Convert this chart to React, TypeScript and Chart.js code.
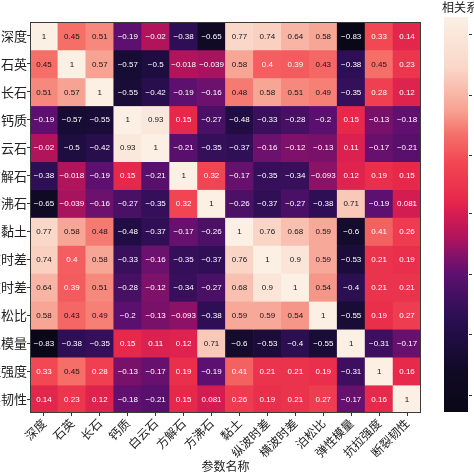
import React, { useEffect, useRef } from 'react';
import { Chart, registerables } from 'chart.js';

Chart.register(...registerables);

// ---------- data ----------
const PARAMS = ['深度', '石英', '长石', '钙质', '白云石', '方解石', '方沸石', '黏土', '纵波时差', '横波时差', '泊松比', '弹性模量', '抗拉强度', '断裂韧性'];
const X_TITLE = '参数名称';
const COLORBAR_TITLE = '相关系数';

const R_DEPTH = [1, 0.45, 0.51, -0.19, -0.02, -0.38, -0.65, 0.77, 0.74, 0.64, 0.58, -0.83, 0.33, 0.14];
const R_QUARTZ = [0.45, 1, 0.57, -0.57, -0.5, -0.018, -0.039, 0.58, 0.4, 0.39, 0.43, -0.38, 0.45, 0.23];
const R_FELDSPAR = [0.51, 0.57, 1, -0.55, -0.42, -0.19, -0.16, 0.48, 0.58, 0.51, 0.49, -0.35, 0.28, 0.12];
const R_CALC = [-0.19, -0.57, -0.55, 1, 0.93, 0.15, -0.27, -0.48, -0.33, -0.28, -0.2, 0.15, -0.13, -0.18];
const R_DOLOMITE = [-0.02, -0.5, -0.42, 0.93, 1, -0.21, -0.35, -0.37, -0.16, -0.12, -0.13, 0.11, -0.17, -0.21];
const R_CALCITE = [-0.38, -0.018, -0.19, 0.15, -0.21, 1, 0.32, -0.17, -0.35, -0.34, -0.093, 0.12, 0.19, 0.15];
const R_ANALCIME = [-0.65, -0.039, -0.16, -0.27, -0.35, 0.32, 1, -0.26, -0.37, -0.27, -0.38, 0.71, -0.19, 0.081];
const R_CLAY = [0.77, 0.58, 0.48, -0.48, -0.37, -0.17, -0.26, 1, 0.76, 0.68, 0.59, -0.6, 0.41, 0.26];
const R_DTC = [0.74, 0.4, 0.58, -0.33, -0.16, -0.35, -0.37, 0.76, 1, 0.9, 0.59, -0.53, 0.21, 0.19];
const R_DTS = [0.64, 0.39, 0.51, -0.28, -0.12, -0.34, -0.27, 0.68, 0.9, 1, 0.54, -0.4, 0.21, 0.21];
const R_POISSON = [0.58, 0.43, 0.49, -0.2, -0.13, -0.093, -0.38, 0.59, 0.59, 0.54, 1, -0.55, 0.19, 0.27];
const R_MODULUS = [-0.83, -0.38, -0.35, 0.15, 0.11, 0.12, 0.71, -0.6, -0.53, -0.4, -0.55, 1, -0.31, -0.17];
const R_TENSILE = [0.33, 0.45, 0.28, -0.13, -0.17, 0.19, -0.19, 0.41, 0.21, 0.21, 0.19, -0.31, 1, 0.16];
const R_TOUGHNESS = [0.14, 0.23, 0.12, -0.18, -0.21, 0.15, 0.081, 0.26, 0.19, 0.21, 0.27, -0.17, 0.16, 1];

const MATRIX = [R_DEPTH, R_QUARTZ, R_FELDSPAR, R_CALC, R_DOLOMITE, R_CALCITE, R_ANALCIME, R_CLAY, R_DTC, R_DTS, R_POISSON, R_MODULUS, R_TENSILE, R_TOUGHNESS];

const COLORBAR_TICKS = [0.92, 0.64, 0.36, 0.09, -0.19, -0.47, -0.75];

// ---------- colormap ----------
const CMAP: [number, string][] = [
  [0.0, '#0A0818'],
  [0.1, '#100A24'],
  [0.18, '#1E0D40'],
  [0.25, '#2F0F56'],
  [0.35, '#5E1070'],
  [0.4, '#881268'],
  [0.443, '#B2145C'],
  [0.5, '#D41C52'],
  [0.535, '#E6284A'],
  [0.63, '#F24653'],
  [0.7, '#F56E68'],
  [0.765, '#F7A393'],
  [0.875, '#FAD8C9'],
  [1.0, '#FCEFE4'],
];

const ALL = MATRIX.flat();
const VMIN = Math.min(...ALL);
const VMAX = Math.max(...ALL);

function hexToRgb(h: string) {
  const n = parseInt(h.slice(1), 16);
  return [(n >> 16) & 255, (n >> 8) & 255, n & 255];
}
function normOf(v: number) {
  return (v - VMIN) / (VMAX - VMIN);
}
function colorAt(t: number) {
  t = Math.max(0, Math.min(1, t));
  for (let i = 1; i < CMAP.length; i++) {
    if (t <= CMAP[i][0]) {
      const [p0, c0] = CMAP[i - 1];
      const [p1, c1] = CMAP[i];
      const f = (t - p0) / (p1 - p0);
      const a = hexToRgb(c0);
      const b = hexToRgb(c1);
      const c = a.map((x, k) => Math.round(x + (b[k] - x) * f));
      return `rgb(${c[0]},${c[1]},${c[2]})`;
    }
  }
  return CMAP[CMAP.length - 1][1];
}
function fmt(v: number) {
  const s = Number(v.toPrecision(2)).toString();
  return s.replace('-', '−');
}

const FONT_CJK = '"Noto Sans CJK SC", "Noto Sans", sans-serif';

const heatPlugin = {
  id: 'heatOverlay',
  afterDatasetsDraw(chart: any) {
    const ctx = chart.ctx;
    const a = chart.chartArea;
    ctx.save();
    // annotations
    ctx.font = '8px "Liberation Sans", Arial, sans-serif';
    ctx.textAlign = 'center';
    ctx.textBaseline = 'middle';
    chart.data.datasets.forEach((_ds: any, r: number) => {
      const meta = chart.getDatasetMeta(r);
      meta.data.forEach((el: any, c: number) => {
        const v = MATRIX[r][c];
        const p = el.getProps(['x', 'y', 'base'], true);
        ctx.fillStyle = normOf(v) > 0.685 ? '#151515' : '#ffffff';
        ctx.fillText(fmt(v), p.x, (p.y + p.base) / 2 + 0.5);
      });
    });
    // frame
    ctx.strokeStyle = '#3a3a3a';
    ctx.lineWidth = 1;
    ctx.strokeRect(a.left + 0.5, a.top + 0.5, a.right - a.left - 1, a.bottom - a.top - 1);

    // colorbar
    const cbL = a.right + 23;
    const cbW = 24;
    const cbT = a.top - 5;
    const cbB = a.bottom - 1;
    const g = ctx.createLinearGradient(0, cbB, 0, cbT);
    CMAP.forEach(([p, c]) => g.addColorStop(p, c));
    ctx.fillStyle = g;
    ctx.fillRect(cbL, cbT, cbW, cbB - cbT);
    ctx.strokeStyle = '#333';
    ctx.lineWidth = 1;
    COLORBAR_TICKS.forEach((t) => {
      const y = Math.round(cbB - ((t - VMIN) / (VMAX - VMIN)) * (cbB - cbT)) + 0.5;
      ctx.beginPath();
      ctx.moveTo(cbL + cbW + 1, y);
      ctx.lineTo(cbL + cbW + 4, y);
      ctx.stroke();
    });
    ctx.fillStyle = '#222';
    ctx.font = `12px ${FONT_CJK}`;
    ctx.textAlign = 'left';
    ctx.textBaseline = 'middle';
    ctx.fillText(COLORBAR_TITLE, cbL - 2, 7);
    ctx.restore();
  },
};

export default function App() {
  const ref = useRef<HTMLCanvasElement>(null);
  useEffect(() => {
    if (!ref.current) return;
    const chart = new Chart(ref.current, {
      type: 'bar',
      data: {
        labels: PARAMS,
        datasets: PARAMS.map((_, r) => ({
          label: PARAMS[r],
          data: PARAMS.map(() => [r, r + 1]) as any,
          backgroundColor: MATRIX[r].map((v) => colorAt(normOf(v))),
          borderWidth: 0,
          barPercentage: 1,
          categoryPercentage: 1,
          grouped: false,
        })),
      },
      options: {
        animation: false,
        responsive: false,
        devicePixelRatio: 1,
        layout: { padding: { top: 22, right: 53, left: 0, bottom: 0 } },
        plugins: { legend: { display: false }, tooltip: { enabled: false } },
        scales: {
          x: {
            type: 'category',
            offset: true,
            grid: { display: true, drawOnChartArea: false, drawTicks: true, tickLength: 3, offset: false, color: '#333' },
            border: { display: false },
            ticks: {
              autoSkip: false,
              minRotation: 45,
              maxRotation: 45,
              padding: 0,
              color: '#222',
              font: { family: FONT_CJK, size: 12 },
            },
            title: {
              display: true,
              text: X_TITLE,
              color: '#222',
              font: { family: FONT_CJK, size: 12 },
              padding: { top: 0, bottom: 0 },
            },
            afterFit(s: any) {
              s.height = 61;
              s.paddingLeft = 0;
              s.paddingRight = 0;
            },
          },
          y: {
            type: 'linear',
            min: 0,
            max: PARAMS.length,
            reverse: true,
            afterBuildTicks(s: any) {
              s.ticks = PARAMS.map((_, i) => ({ value: i + 0.5 }));
            },
            grid: { display: true, drawOnChartArea: false, drawTicks: true, tickLength: 3, color: '#333' },
            border: { display: false },
            ticks: {
              padding: 0,
              color: '#222',
              font: { family: FONT_CJK, size: 13 },
              callback: (_v: any, i: number) => PARAMS[i],
            },
            afterFit(s: any) {
              s.width = 30;
              s.paddingTop = 0;
              s.paddingBottom = 0;
            },
          },
        },
      },
      plugins: [heatPlugin],
    });
    return () => chart.destroy();
  }, []);
  return (
    <div style={{ position: 'fixed', left: 0, top: 0, width: 474, height: 474, background: '#fff' }}>
      <canvas ref={ref} width={474} height={474} style={{ display: 'block' }} />
    </div>
  );
}
